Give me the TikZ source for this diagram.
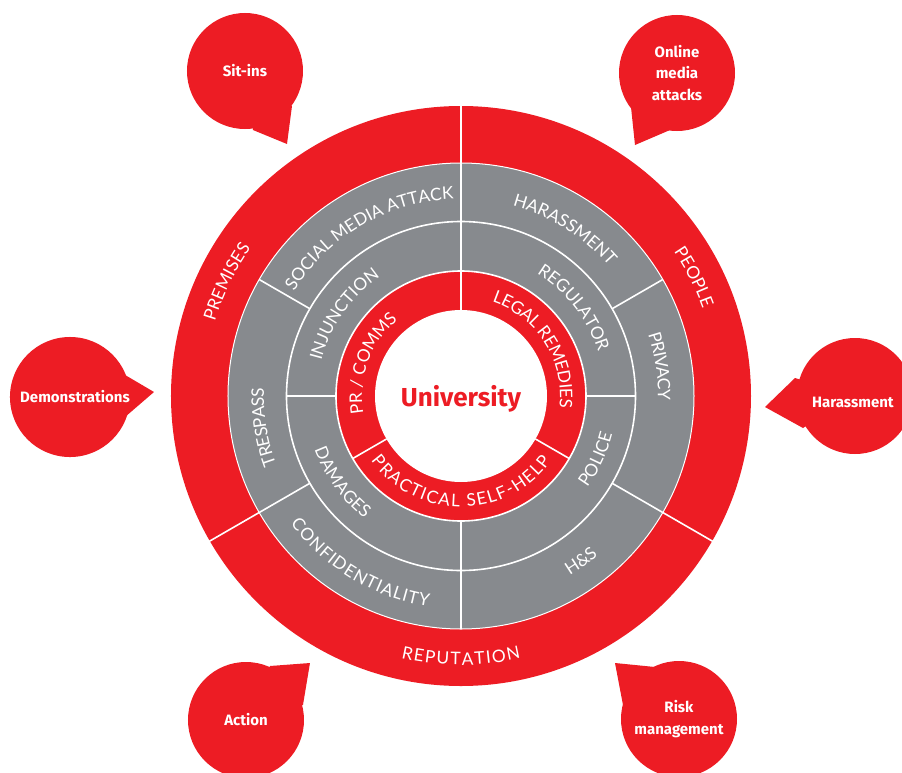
\documentclass[tikz,border=0pt]{standalone}
\usepackage{fontspec}
\setmainfont{Lato}
\newfontfamily\ringfont{Lato}
\newfontfamily\bubblefont{Fira Sans}
\definecolor{ured}{RGB}{237,28,36}
\definecolor{ugray}{RGB}{135,138,142}
\newcommand\lbl{\ringfont\fontsize{17.3}{20}\selectfont}
\newcommand\placeletter[4]{\node[rotate=#2, anchor=base, inner sep=0pt, text=white, font=\lbl] at (#1:#3) {#4};}
\newcommand\measureletter[1]{\pgfinterruptpicture\lbl #1\endpgfinterruptpicture}
\ExplSyntaxOn
\dim_new:N \l__my_total_dim
\dim_new:N \l__my_cum_dim
\dim_new:N \l__my_w_dim
\box_new:N \l__my_box
\tl_new:N \l__my_ang_tl
\tl_new:N \l__my_rot_tl
% #1 tracking, #2 baseline radius, #3 centre angle, #4 direction (1 = ccw tops inward, -1 = cw tops outward), #5 text
\NewDocumentCommand \arcword { O{0pt} m m m m }
  {
    \dim_zero:N \l__my_total_dim
    \str_map_inline:nn {#5}
      {
        \hbox_set:Nn \l__my_box { \measureletter {##1} }
        \dim_add:Nn \l__my_total_dim { \box_wd:N \l__my_box + #1 }
      }
    \dim_sub:Nn \l__my_total_dim {#1}
    \dim_set:Nn \l__my_cum_dim { -0.5\l__my_total_dim }
    \str_map_inline:nn {#5}
      {
        \hbox_set:Nn \l__my_box { \measureletter {##1} }
        \dim_set:Nn \l__my_w_dim { \box_wd:N \l__my_box }
        \tl_set:Nx \l__my_ang_tl
          { \fp_eval:n { #3 + (#4) * ( \dim_to_fp:n { \l__my_cum_dim + 0.5\l__my_w_dim } ) / (#2) * 180 / pi } }
        \tl_set:Nx \l__my_rot_tl { \fp_eval:n { \l__my_ang_tl + (#4) * 90 } }
        \placeletter { \l__my_ang_tl } { \l__my_rot_tl } {#2} {##1}
        \dim_add:Nn \l__my_cum_dim { \l__my_w_dim + #1 }
      }
  }
\ExplSyntaxOff
\tikzset{
  divider/.style={white, line width=1.6pt},
  bubble/.style={circle, fill=ured, minimum size=116pt, inner sep=0pt, text=white,
    font=\bubblefont\bfseries\fontsize{15}{21.5}\selectfont, align=center},
  bubbletext/.style={text=white, font=\bubblefont\bfseries\fontsize{15}{21.5}\selectfont, align=center},
  pointer/.style={fill=ured},
}
\begin{document}
\begin{tikzpicture}[x=1pt,y=1pt]
\useasboundingbox[fill=white] (-461,-376) rectangle (441,396);
\coordinate (O) at (0,0);
% rings
\fill[ured] (O) circle[radius=290];
\fill[ugray] (O) circle[radius=233];
\fill[ured] (O) circle[radius=125];
\fill[white] (O) circle[radius=86];
\draw[divider, line width=1pt] (O) circle[radius=233];
\draw[divider] (O) circle[radius=174.5];
\draw[divider] (O) circle[radius=125];
% dividers
\foreach \a in {90,-30,210} \draw[divider] (\a:233) -- (\a:291);
\foreach \a in {90,30,-30,-90,210,150} \draw[divider] (\a:174.5) -- (\a:233);
\foreach \a in {90,0,-90,180} \draw[divider] (\a:125) -- (\a:174.5);
\foreach \a in {90,-30,210} \draw[divider] (\a:86) -- (\a:125);
% outer red ring labels
\arcword[0.2pt]{257}{154}{-1}{PREMISES}
\arcword{257}{27}{-1}{PEOPLE}
\arcword[1.4pt]{269}{270}{1}{REPUTATION}
% outer gray ring labels
\arcword{197}{120}{-1}{SOCIAL MEDIA ATTACK}
\arcword{197}{58}{-1}{HARASSMENT}
\arcword[-0.8pt]{197}{8.5}{-1}{PRIVACY}
\arcword{210}{-54}{1}{H&S}
\arcword[1pt]{213}{239}{1}{CONFIDENTIALITY}
\arcword[-0.6pt]{197}{189}{-1}{TRESPASS}
% middle gray ring labels
\arcword{144}{145}{-1}{INJUNCTION}
\arcword{144}{38}{-1}{REGULATOR}
\arcword{156}{-25}{1}{POLICE}
\arcword[0.3pt]{156}{216}{1}{DAMAGES}
% inner red ring labels
\arcword{99}{160}{-1}{PR / COMMS}
\arcword[-0.4pt]{99}{32.5}{-1}{LEGAL REMEDIES}
\arcword[1.5pt]{111}{270}{1}{PRACTICAL SELF-HELP}
% centre
\node[text=ured, font=\bubblefont\bfseries\fontsize{26}{30}\selectfont] (uni) at (0,-3) {University};
% bubbles: pointers first
\fill[pointer] (-216,325) -- (-169,290) -- (-174,252) -- (-208,266) -- cycle;
\fill[pointer] (216,325) -- (170,289) -- (174,251) -- (209,266) -- cycle;
\fill[pointer] (-391,-1) -- (-341,24) -- (-307,4) -- (-336,-21) -- cycle;
\fill[pointer] (394,0) -- (334,18) -- (304,-11) -- (342,-32) -- cycle;
\fill[pointer] (-215,-324) -- (-191,-270) -- (-151,-267) -- (-158,-309) -- cycle;
\fill[pointer] (218,-325) -- (194,-271) -- (154,-267) -- (162,-309) -- cycle;
\node[bubble] (sitins) at (-216,325) {Sit-ins};
\node[bubble] (online) at (216,323) {Online\\media\\attacks};
\node[bubble] (demo) at (-391,-1) {\hspace*{10pt}Demonstrations};
\node[bubble] (harass) at (394,0) {};
\node[bubbletext] (harasstxt) at (392,-6) {Harassment};
\node[bubble] (action) at (-215,-324) {Action};
\node[bubble] (risk) at (218,-323) {Risk\\management};
\end{tikzpicture}
\end{document}
